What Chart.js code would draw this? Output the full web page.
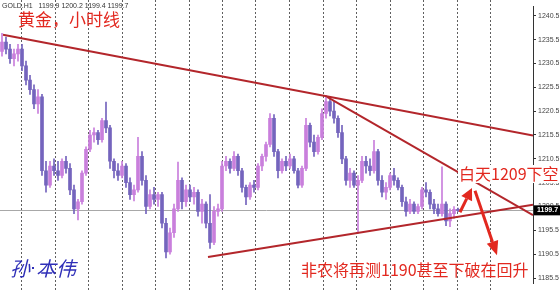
<!DOCTYPE html>
<html>
<head>
<meta charset="utf-8">
<script src="https://cdn.jsdelivr.net/npm/chart.js@4.4.1/dist/chart.umd.min.js"></script>
<style>
  html, body { margin: 0; padding: 0; background: #fff; }
  #wrap { width: 560px; height: 290px; }
</style>
</head>
<body>
<div id="wrap"><canvas id="gold" width="560" height="290"></canvas></div>
<script>
/* ── DATA: GOLD H1 candles (one per hour) ─────────────────── */
const opens = [
  1233, 1235, 1233.5, 1231.5, 1232.5, 1233.5, 1230, 1227, 1225, 1222,
  1223.5, 1208, 1205, 1209, 1208, 1207, 1210, 1208.5, 1204, 1200,
  1201.5, 1207.5, 1212.5, 1215.5, 1216, 1214.5, 1218.5, 1217, 1210, 1208,
  1207, 1209, 1205.5, 1203, 1204, 1211, 1206, 1200.5, 1203, 1202,
  1203, 1197, 1191, 1195, 1200, 1206, 1201.5, 1204, 1202.5, 1203.5,
  1199.5, 1201, 1197, 1193, 1199.5, 1200, 1209, 1210, 1208.5, 1211,
  1208, 1204.5, 1202.5, 1205, 1204.5, 1209, 1211, 1213.5, 1219, 1212,
  1208, 1210, 1209, 1210.5, 1208, 1205, 1208.5, 1217.5, 1214, 1212,
  1215, 1220, 1222.5, 1220.5, 1219, 1216, 1210.5, 1206, 1207.5, 1205,
  1206, 1210, 1209, 1208, 1212, 1206, 1203.5, 1204.5, 1207, 1206,
  1204.5, 1201.5, 1199.5, 1201, 1199.5, 1200.5, 1204, 1203.5, 1201, 1200,
  1199, 1201, 1197.5, 1199, 1199.9
];
const highs = [
  1236.8, 1236, 1234.5, 1233.5, 1234.5, 1234.5, 1231, 1228, 1226, 1225,
  1224, 1210, 1210, 1210.5, 1210, 1210.5, 1211, 1209.5, 1205, 1202,
  1208, 1213, 1216.5, 1217, 1216.5, 1219, 1222.4, 1217.5, 1210.5, 1209.5,
  1210, 1209.5, 1206.5, 1205, 1215, 1212, 1207, 1204, 1204.5, 1203.5,
  1203.5, 1198, 1196, 1201, 1209.8, 1206.5, 1205, 1205, 1204.5, 1204,
  1202, 1201.5, 1203, 1200.5, 1201, 1210, 1211, 1210.5, 1212, 1211.5,
  1208.5, 1205, 1205.5, 1206, 1209.5, 1211.5, 1214, 1220, 1219.8, 1212.5,
  1210.5, 1211, 1211.5, 1211, 1208.5, 1209, 1219, 1218, 1215.5, 1215.5,
  1221, 1223.8, 1223.5, 1222.5, 1219.5, 1217.5, 1211, 1208.5, 1208, 1207,
  1211, 1211, 1210.5, 1214.4, 1212.5, 1207, 1205.5, 1207.5, 1208.5, 1206.5,
  1205, 1202.5, 1202, 1201.5, 1201, 1204.5, 1205.5, 1204, 1202, 1201,
  1208.8, 1201.5, 1200, 1200.5, 1200.2
];
const lows = [
  1232, 1232.5, 1230.5, 1230, 1231, 1229, 1226, 1224, 1221, 1220,
  1207, 1203.5, 1204.5, 1207, 1206, 1206.5, 1207.5, 1203, 1199, 1197.7,
  1201, 1207, 1212, 1214, 1213.5, 1214, 1216, 1208.5, 1206.5, 1206,
  1206.5, 1204.5, 1202, 1201.7, 1203.5, 1205, 1199, 1200, 1201, 1200.5,
  1196, 1189.7, 1190.5, 1194, 1199.5, 1200, 1200.5, 1201.5, 1201, 1198.5,
  1197, 1196, 1191.7, 1192.5, 1198.5, 1199.5, 1208, 1207.5, 1208, 1207,
  1203.5, 1200.9, 1202, 1203.5, 1204, 1208, 1210, 1213, 1211, 1206.5,
  1207.5, 1208, 1208.5, 1207.5, 1204.4, 1204.5, 1208, 1213, 1211, 1211.5,
  1214.5, 1219, 1219.5, 1218, 1215, 1209.5, 1205, 1204.5, 1204.5, 1194.9,
  1205.5, 1207.5, 1207, 1207.5, 1205, 1202.5, 1202, 1204, 1205, 1204,
  1200.5, 1198.5, 1199, 1199, 1199, 1200, 1202.5, 1200, 1199, 1198.5,
  1198.5, 1196.5, 1196.3, 1198, 1199.4
];
const closes = [
  1235, 1233.5, 1231.5, 1232.5, 1233.5, 1230, 1227, 1225, 1222, 1223.5,
  1208, 1205, 1209, 1208, 1207, 1210, 1208.5, 1204, 1200, 1201.5,
  1207.5, 1212.5, 1215.5, 1216, 1214.5, 1218.5, 1217, 1210, 1208, 1207,
  1209, 1205.5, 1203, 1204, 1211, 1206, 1200.5, 1203, 1202, 1203,
  1197, 1191, 1195, 1200, 1206, 1201.5, 1204, 1202.5, 1203.5, 1199.5,
  1201, 1197, 1193, 1199.5, 1200, 1209, 1210, 1208.5, 1211, 1208,
  1204.5, 1202.5, 1205, 1204.5, 1209, 1211, 1213.5, 1219, 1212, 1208,
  1210, 1209, 1210.5, 1208, 1205, 1208.5, 1217.5, 1214, 1212, 1215,
  1220, 1222.5, 1220.5, 1219, 1216, 1210.5, 1206, 1207.5, 1205, 1206,
  1210, 1209, 1208, 1212, 1206, 1203.5, 1204.5, 1207, 1206, 1204.5,
  1201.5, 1199.5, 1201, 1199.5, 1200.5, 1204, 1203.5, 1201, 1200, 1199,
  1201, 1197.5, 1199, 1199.9, 1199.7
];

/* axis + annotation values (hour index, price) */
const priceTicks = [1185.5, 1190.5, 1195.5, 1200.5, 1205.5, 1210.5, 1215.5, 1220.5, 1225.5, 1230.5, 1235.5, 1240.5];
const gridHours = [4.75, 13.125, 21.5, 29.875, 38.25, 46.625, 55, 63.375, 71.75, 80.125, 88.5, 96.875, 105.25, 113.625, 122];
const lastPrice = 1199.7;
const trendTop = [[0.25, 1236.5], [132.75, 1215.4]];
const trendFall = [[81.25, 1223.5], [132.75, 1198.7]];
const trendSupport = [[51.5, 1189.9], [132.75, 1200.9]];
const arrowUp = [[114.5, 1199.3], [117.5, 1204.4]];
const arrowDown = [[118.25, 1203.8], [123.75, 1190.3]];

const BULL = '#c97fdc';
const BEAR = '#7464bd';
const TREND = '#b3262b';
const NOTE = '#e2281f';
const CJK = '"Noto Sans CJK SC", sans-serif';

const hours = opens.map((_, i) => i);
const candleColor = c => closes[c.dataIndex] >= opens[c.dataIndex] ? BULL : BEAR;
const toPts = arr => arr.map(([x, y]) => ({ x, y }));

function trendSet(points) {
    return {
        type: 'line', data: toPts(points), borderColor: TREND, borderWidth: 2,
        pointRadius: 0, fill: false, tension: 0, order: 0,
    };
}

/* ── OVERLAY: grid, price line, notes, arrows ───────────────── */
function drawArrow(ctx, x1, y1, x2, y2, head, half) {
    const ang = Math.atan2(y2 - y1, x2 - x1);
    const bx = x2 - Math.cos(ang) * head, by = y2 - Math.sin(ang) * head;
    ctx.beginPath();
    ctx.moveTo(x1, y1);
    ctx.lineTo(bx, by);
    ctx.stroke();
    ctx.beginPath();
    ctx.moveTo(x2, y2);
    ctx.lineTo(bx + Math.sin(ang) * half, by - Math.cos(ang) * half);
    ctx.lineTo(bx - Math.sin(ang) * half, by + Math.cos(ang) * half);
    ctx.closePath();
    ctx.fill();
}

const overlay = {
    id: 'overlay',
    beforeDatasetsDraw(chart) {
        const { ctx, chartArea: a, scales: { x, y } } = chart;
        ctx.save();
        // dotted time grid
        ctx.fillStyle = '#5f5f5f';
        gridHours.forEach(h => {
            const px = Math.round(x.getPixelForValue(h));
            for (let py = 0; py < chart.height; py += 4) ctx.fillRect(px, py, 1, 2);
        });
        const py = Math.round(y.getPixelForValue(lastPrice)) + 0.5;
        ctx.strokeStyle = '#a8a8a8';
        ctx.lineWidth = 1;
        ctx.beginPath(); ctx.moveTo(a.left, py); ctx.lineTo(a.right, py); ctx.stroke();
        ctx.restore();
    },
    afterDatasetsDraw(chart) {
        const { ctx, scales: { x, y } } = chart;
        const px = p => [x.getPixelForValue(p[0]), y.getPixelForValue(p[1])];
        ctx.save();

        // header
        const n = opens.length - 1;
        ctx.fillStyle = '#333';
        ctx.font = '7px "Liberation Sans", sans-serif';
        ctx.textBaseline = 'middle';
        ctx.fillText('GOLD.H1   ' + [opens[n], highs[n], lows[n], closes[n]].map(v => v.toFixed(1)).join(' '), 2, 6);

        // arrows
        ctx.strokeStyle = NOTE; ctx.fillStyle = NOTE; ctx.lineWidth = 3;
        drawArrow(ctx, ...px(arrowUp[0]), ...px(arrowUp[1]), 12, 6);
        drawArrow(ctx, ...px(arrowDown[0]), ...px(arrowDown[1]), 14, 6);

        // red notes
        ctx.fillStyle = NOTE;
        ctx.font = '17px ' + CJK;
        ctx.fillText('黄金，小时线', 18, 20);
        ctx.font = '16px ' + CJK;
        ctx.fillText('非农将再测1190甚至下破在回升', 301, 270);
        const t = '白天1209下空';
        const w = ctx.measureText(t).width;
        ctx.fillStyle = '#fff';
        ctx.fillRect(458, 165, w + 2, 18);
        ctx.fillStyle = NOTE;
        ctx.fillText(t, 459, 174);

        // signature
        ctx.fillStyle = '#2f2fb8';
        ctx.font = 'italic 20px ' + CJK;
        ctx.fillText('孙', 10, 268);
        ctx.fillRect(32, 267, 2, 2);
        ctx.fillText('本伟', 36, 268);
        ctx.restore();
    },
    afterDraw(chart) {
        const { ctx, chartArea: a, scales: { y } } = chart;
        const py = y.getPixelForValue(lastPrice);
        ctx.save();
        ctx.fillStyle = '#000';
        ctx.fillRect(a.right + 1, py - 5, chart.width - a.right - 1, 10);
        ctx.fillStyle = '#fff';
        ctx.font = 'bold 7px "Liberation Sans", sans-serif';
        ctx.textBaseline = 'middle';
        ctx.fillText(lastPrice.toFixed(1), a.right + 4, py);
        ctx.restore();
    },
};

/* ── CHART ─────────────────────────────────────────────────── */
new Chart(document.getElementById('gold'), {
    type: 'bar',
    data: {
        datasets: [
            {
                label: 'range', data: hours.map(i => ({ x: i, y: [lows[i], highs[i]] })),
                backgroundColor: candleColor, barThickness: 1, grouped: false, order: 2,
            },
            {
                label: 'body', data: hours.map(i => ({ x: i, y: [opens[i], closes[i]] })),
                backgroundColor: candleColor, barThickness: 3, grouped: false, order: 1,
            },
            trendSet(trendTop),
            trendSet(trendFall),
            trendSet(trendSupport),
        ],
    },
    options: {
        responsive: false,
        animation: false,
        layout: { padding: 0 },
        plugins: { legend: { display: false }, tooltip: { enabled: false } },
        scales: {
            x: { type: 'linear', min: -0.5, max: 132.75, offset: false, display: false },
            y: {
                position: 'right', min: 1184.3, max: 1242.5,
                afterBuildTicks: s => { s.ticks = priceTicks.map(v => ({ value: v })); },
                afterFit: s => { s.width = 27; },
                grid: { drawOnChartArea: false, tickLength: 3, color: '#333' },
                border: { display: true, color: '#333', width: 1 },
                ticks: {
                    padding: 2, color: '#444',
                    font: { size: 7, family: '"Liberation Sans", sans-serif' },
                    callback: v => v.toFixed(1),
                },
            },
        },
    },
    plugins: [overlay],
});
</script>
</body>
</html>
